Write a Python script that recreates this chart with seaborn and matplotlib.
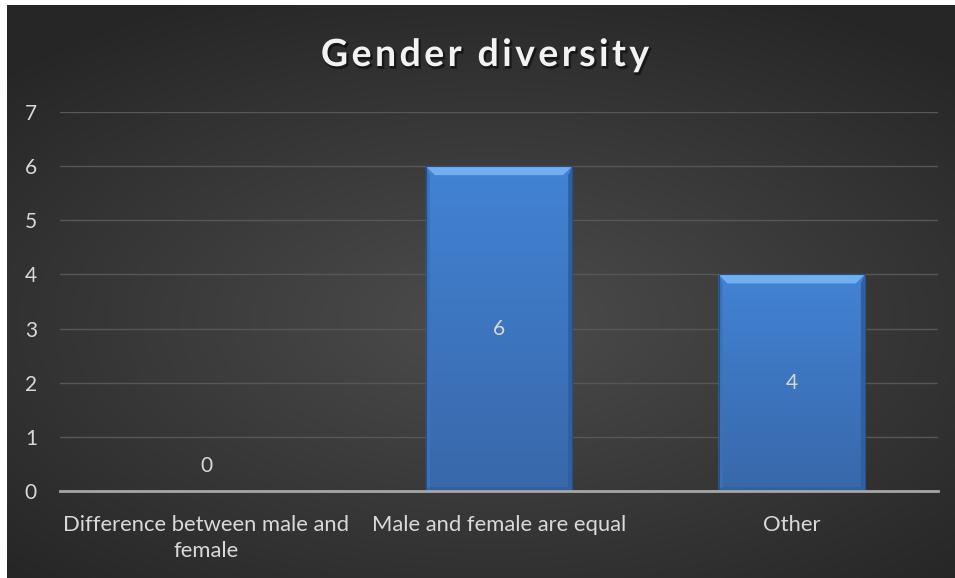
import numpy as np
import pandas as pd
import matplotlib
matplotlib.use("Agg")
import matplotlib.pyplot as plt
from matplotlib.patches import Polygon, PathPatch
from matplotlib.textpath import TextPath
from matplotlib.transforms import Affine2D
from matplotlib.font_manager import FontProperties, findfont, get_font
from matplotlib.colors import LinearSegmentedColormap
import seaborn as sns

categories = ["Difference between male and\nfemale", "Male and female are equal", "Other"]
counts = [0, 6, 4]
y_ticks = [0, 1, 2, 3, 4, 5, 6, 7]
title = "Gender diversity"

sns.set_theme(style="dark")
plt.rcParams["font.family"] = ["Lato", "DejaVu Sans"]

W, H = 955, 578
fig = plt.figure(figsize=(W / 100, H / 100), dpi=100, facecolor="white")
px_to_disp = Affine2D().scale(1 / 100) + fig.dpi_scale_trans

# radial dark backdrop
bg = fig.add_axes([7 / W, 0, (W - 7) / W, (H - 5) / H], zorder=-5)
gx, gy = np.meshgrid(np.linspace(-1, 1, 600), np.linspace(-1, 1, 400))
r = np.sqrt(((gx - 0.02) / 1.15) ** 2 + ((gy - 0.1) / 1.0) ** 2)
shade = 0.30 - 0.15 * np.clip(r, 0, 1.25) / 1.25
bg.imshow(np.dstack([shade, shade, shade]), aspect="auto", extent=[0, 1, 0, 1],
          interpolation="bicubic")
bg.set_axis_off()

ax = fig.add_axes([60 / W, 87 / H, (938 - 60) / W, (491 - 112) / H])
ax.set_facecolor((0, 0, 0, 0))

df = pd.DataFrame({"category": categories, "count": counts})
sns.barplot(data=df, x="category", y="count", color="#3f7fcf", width=0.5,
            saturation=1, ax=ax, zorder=3, edgecolor="#2b5a96", linewidth=0.8)

ax.set_ylim(0, 7)
ax.set_yticks(y_ticks)
ax.set_xlim(-0.5, len(categories) - 0.5)
ax.grid(axis="y", color="#575757", linewidth=1.0, zorder=0)
ax.grid(axis="x", visible=False)
for s in ["top", "right", "left"]:
    ax.spines[s].set_visible(False)
ax.spines["bottom"].set_color("#a6a6a6")
ax.spines["bottom"].set_linewidth(2)
ax.spines["bottom"].set_zorder(4)
ax.tick_params(axis="both", length=0, colors="#d9d9d9")
ax.tick_params(axis="y", labelsize=15, pad=21)
ax.tick_params(axis="x", labelsize=15.8, pad=17)
for lbl in ax.get_yticklabels():
    lbl.set_horizontalalignment("center")
for lbl in ax.get_xticklabels():
    lbl.set_linespacing(1.4)
ax.set_xlabel("")
ax.set_ylabel("")

# bevelled look on each bar
fig.canvas.draw()
inv = ax.transData.inverted()
px = abs(inv.transform((1, 0))[0] - inv.transform((0, 0))[0])
py = abs(inv.transform((0, 1))[1] - inv.transform((0, 0))[1])
grad = np.linspace(0, 1, 100).reshape(-1, 1)
face_cmap = LinearSegmentedColormap.from_list("face", ["#3868aa", "#4283d4"])
for bar in list(ax.patches):
    x0, y0 = bar.get_x(), bar.get_y()
    w, h = bar.get_width(), bar.get_height()
    if h <= 0:
        continue
    im = ax.imshow(grad, cmap=face_cmap, aspect="auto", origin="lower",
                   extent=[x0, x0 + w, y0, y0 + h], zorder=3.5)
    im.set_clip_path(bar)
    bx, by, sx, sy = 9 * px, 9 * py, 4 * px, 4 * py
    faces = [
        ([(x0, y0 + h), (x0 + w, y0 + h), (x0 + w - bx, y0 + h - by), (x0 + bx, y0 + h - by)], "#72aef0"),
        ([(x0, y0), (x0, y0 + h), (x0 + sx, y0 + h - by), (x0 + sx, y0 + sy)], "#3a72bb"),
        ([(x0 + w, y0), (x0 + w, y0 + h), (x0 + w - sx, y0 + h - by), (x0 + w - sx, y0 + sy)], "#2f5f9e"),
        ([(x0, y0), (x0 + w, y0), (x0 + w - sx, y0 + sy), (x0 + sx, y0 + sy)], "#30609f"),
    ]
    for pts, col in faces:
        ax.add_patch(Polygon(pts, closed=True, facecolor=col, edgecolor="none", zorder=3.6))
    ax.add_patch(plt.Rectangle((x0, y0), w, h, fill=False, edgecolor="#24508a",
                               linewidth=0.8, zorder=3.7))

# value labels
for i, v in enumerate(counts):
    if v > 0:
        ax.text(i, v / 2, str(v), ha="center", va="center", color="#d9d9d9",
                fontsize=15, zorder=5)
    else:
        ax.annotate(str(v), (i, v), xytext=(0, 18), textcoords="offset points",
                    ha="center", va="center", color="#d9d9d9", fontsize=15, zorder=5)

# letter-spaced bold title drawn as glyph outlines
em = 37.5
tracking = 3.4
fp = FontProperties(family="Lato", weight="bold")
ft = get_font(findfont(fp))
ft.set_size(em, 72)
advances = []
for ch in title:
    g = ft.load_char(ord(ch))
    advances.append(g.linearHoriAdvance / 65536)
total = sum(advances) + tracking * (len(title) - 1)
cx, baseline = 485, H - 66
pen = cx - total / 2
for ch, adv in zip(title, advances):
    if ch.strip():
        path = TextPath((pen, baseline), ch, size=em, prop=fp)
        shadow = PathPatch(path, facecolor="black", edgecolor="black", linewidth=1.5,
                           alpha=0.35, transform=Affine2D().translate(1.5, -2) + px_to_disp)
        glyph = PathPatch(path, facecolor="#f2f2f2", edgecolor="none", transform=px_to_disp)
        fig.patches.extend([shadow, glyph])
    pen += adv + tracking

fig.savefig("out.png", dpi=100, facecolor="white")
